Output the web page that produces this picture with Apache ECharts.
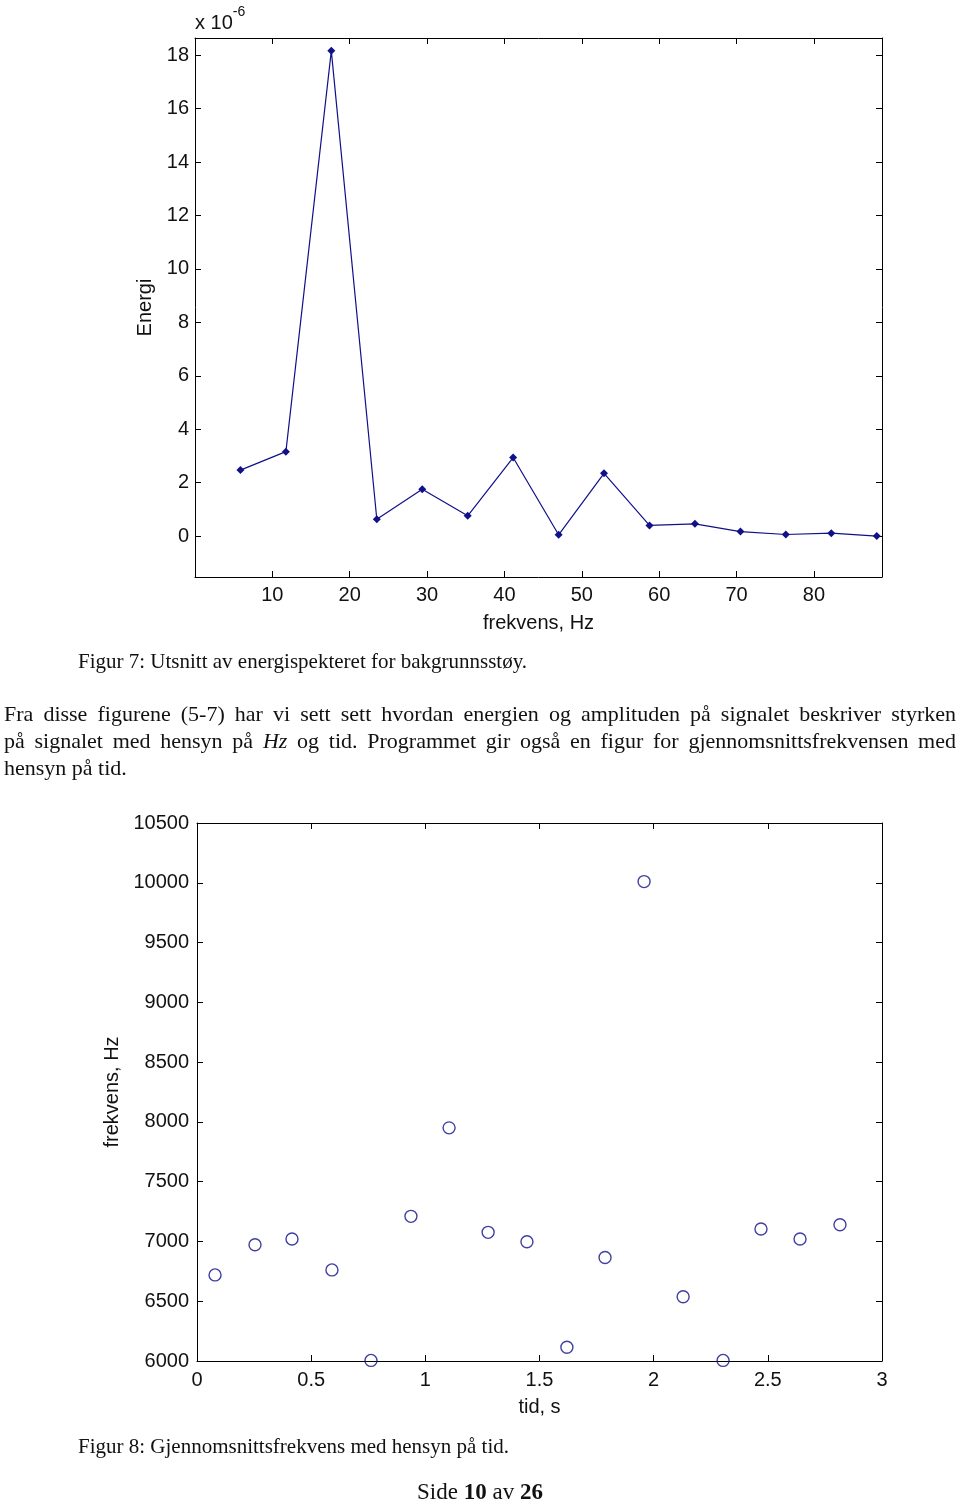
<!DOCTYPE html>
<html>
<head>
<meta charset="utf-8">
<script src="https://cdn.jsdelivr.net/npm/echarts@6/dist/echarts.min.js"></script>
<style>
  html, body { margin: 0; padding: 0; background: #fff; }
  #wrap { position: relative; width: 960px; height: 1505px; overflow: hidden; }
  #chart { position: absolute; left: 0; top: 0; width: 960px; height: 1505px; }
  .t { position: absolute; font-family: "Liberation Serif", "Times New Roman", serif; color: #111; white-space: nowrap; }
  .cap { font-size: 21px; }
  .para { left: 4px; width: 952px; font-size: 22px; }
  .para div { height: 27px; line-height: 27px; }
  .j { text-align: justify; text-align-last: justify; }
</style>
</head>
<body>
<div id="wrap">
  <div id="chart"></div>
  <div class="t cap" style="left:78px; top:649px;">Figur 7: Utsnitt av energispekteret for bakgrunnsstøy.</div>
  <div class="t para" style="top:700px;">
    <div class="j">Fra disse figurene (5-7) har vi sett sett hvordan energien og amplituden på signalet beskriver styrken</div>
    <div class="j">på signalet med hensyn på <i>Hz</i> og tid. Programmet gir også en figur for gjennomsnittsfrekvensen med</div>
    <div>hensyn på tid.</div>
  </div>
  <div class="t cap" style="left:78px; top:1434px;">Figur 8: Gjennomsnittsfrekvens med hensyn på tid.</div>
  <div class="t" style="left:380px; width:200px; text-align:center; top:1479px; font-size:23px;">Side <b>10</b> av <b>26</b></div>
</div>
<script>
// ---- Figure 7: energy spectrum (values in units of 1e-6) ----
const freqHz = [5.87, 11.75, 17.62, 23.5, 29.37, 35.25, 41.12, 47.0, 52.87, 58.75, 64.62, 70.5, 76.37, 82.25, 88.12];
const energy = [2.47, 3.16, 18.16, 0.63, 1.75, 0.76, 2.94, 0.05, 2.35, 0.40, 0.46, 0.17, 0.06, 0.11, 0.0];
const energyTicks = [0, 2, 4, 6, 8, 10, 12, 14, 16, 18];

// ---- Figure 8: mean frequency vs time ----
const tidS = [0.079, 0.254, 0.416, 0.591, 0.762, 0.937, 1.104, 1.275, 1.445, 1.620, 1.787, 1.958, 2.129, 2.304, 2.470, 2.641, 2.816];
const meanFreq = [6720, 6972, 7020, 6762, 6005, 7210, 7950, 7076, 6998, 6115, 6866, 10010, 6538, 6005, 7104, 7020, 7140];

const axisFont = "'Liberation Sans', Arial, sans-serif";
const navy = '#10108a';
const lineStyle = { color: '#000', width: 1 };
const tickStyle = { inside: true, length: 6, lineStyle: { color: '#000', width: 1 } };
const lab = { color: '#111', fontSize: 20, fontFamily: axisFont, formatter: v => String(v) };
const nameStyle = { color: '#111', fontSize: 20, fontFamily: axisFont };
const line = { show: true, onZero: false, lineStyle };

const chart = echarts.init(document.getElementById('chart'), null, { renderer: 'canvas' });

const option = {
  animation: false,
  backgroundColor: '#fff',
  grid: [
    { left: 195, top: 38, width: 687, height: 539, show: false },
    { left: 197, top: 823, width: 685, height: 538, show: false }
  ],
  xAxis: [
    { gridIndex: 0, type: 'value', min: 0, max: 88.8, interval: 10, position: 'bottom',
      axisLine: line, axisTick: tickStyle, splitLine: { show: false },
      axisLabel: Object.assign({}, lab, { margin: 8, showMinLabel: false, showMaxLabel: false }),
      name: 'frekvens, Hz', nameLocation: 'middle', nameGap: 36, nameTextStyle: nameStyle },
    { gridIndex: 0, type: 'value', min: 0, max: 88.8, interval: 10, position: 'top',
      axisLine: line, axisTick: tickStyle, splitLine: { show: false },
      axisLabel: { show: false } },
    { gridIndex: 1, type: 'value', min: 0, max: 3, interval: 0.5, position: 'bottom',
      axisLine: line, axisTick: tickStyle, splitLine: { show: false },
      axisLabel: Object.assign({}, lab, { margin: 9 }),
      name: 'tid, s', nameLocation: 'middle', nameGap: 36, nameTextStyle: nameStyle },
    { gridIndex: 1, type: 'value', min: 0, max: 3, interval: 0.5, position: 'top',
      axisLine: line, axisTick: tickStyle, splitLine: { show: false },
      axisLabel: { show: false } }
  ],
  yAxis: [
    { gridIndex: 0, type: 'value', min: -1.53, max: 18.64, position: 'left',
      axisLine: line, splitLine: { show: false },
      axisTick: Object.assign({ customValues: energyTicks }, tickStyle),
      axisLabel: Object.assign({}, lab, { margin: 6, customValues: energyTicks }),
      name: 'Energi', nameLocation: 'middle', nameGap: 40, nameRotate: 90, nameTextStyle: nameStyle },
    { gridIndex: 0, type: 'value', min: -1.53, max: 18.64, position: 'right',
      axisLine: line, splitLine: { show: false },
      axisTick: Object.assign({ customValues: energyTicks }, tickStyle),
      axisLabel: { show: false } },
    { gridIndex: 1, type: 'value', min: 6000, max: 10500, interval: 500, position: 'left',
      axisLine: line, axisTick: tickStyle, splitLine: { show: false },
      axisLabel: Object.assign({}, lab, { margin: 8 }),
      name: 'frekvens, Hz', nameLocation: 'middle', nameGap: 73, nameRotate: 90, nameTextStyle: nameStyle },
    { gridIndex: 1, type: 'value', min: 6000, max: 10500, interval: 500, position: 'right',
      axisLine: line, axisTick: tickStyle, splitLine: { show: false },
      axisLabel: { show: false } }
  ],
  graphic: [
    { type: 'text', left: 195, top: 5,
      style: { text: '{a|x 10}{b|-6}', rich: {
        a: { fontSize: 20, fontFamily: axisFont, fill: '#111', padding: [8, 0, 0, 0] },
        b: { fontSize: 14, fontFamily: axisFont, fill: '#111', verticalAlign: 'top' } } } }
  ],
  series: [
    { type: 'line', xAxisIndex: 0, yAxisIndex: 0,
      data: freqHz.map((f, i) => [f, energy[i]]),
      symbol: 'diamond', symbolSize: 8, showAllSymbol: true,
      lineStyle: { color: navy, width: 1.2 }, itemStyle: { color: navy } },
    { type: 'scatter', xAxisIndex: 2, yAxisIndex: 2, clip: false,
      data: tidS.map((t, i) => [t, meanFreq[i]]),
      symbol: 'circle', symbolSize: 12,
      itemStyle: { color: 'rgba(255,255,255,0)', borderColor: navy, borderWidth: 1.4 } }
  ]
};
chart.setOption(option);
</script>
</body>
</html>
